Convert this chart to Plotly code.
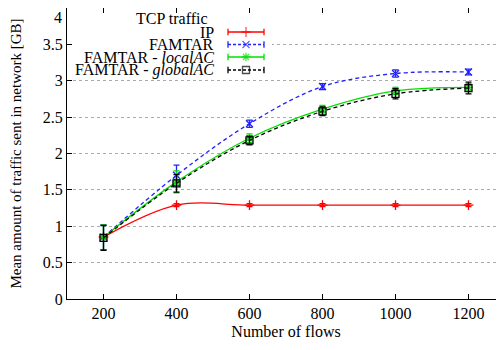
import plotly.graph_objects as go

flows = [200, 400, 600, 800, 1000, 1200]
ip = [0.85, 1.29, 1.29, 1.29, 1.29, 1.29]
ip_err = [0.02, 0.02, 0.02, 0.02, 0.02, 0.02]
famtar = [0.85, 1.70, 2.41, 2.92, 3.10, 3.12]
famtar_err = [0.17, 0.14, 0.05, 0.04, 0.05, 0.04]
local_ac = [0.85, 1.61, 2.21, 2.61, 2.86, 2.91]
local_err = [0.17, 0.15, 0.06, 0.05, 0.05, 0.05]
global_ac = [0.84, 1.59, 2.18, 2.58, 2.82, 2.90]
global_err = [0.17, 0.12, 0.06, 0.06, 0.07, 0.08]
y_ticks = [0, 0.5, 1, 1.5, 2, 2.5, 3, 3.5, 4]

series_names = ["IP", "FAMTAR", "FAMTAR - <i>localAC</i>", "FAMTAR - <i>globalAC</i>"]
colors = ["#ff0000", "#2222ff", "#00e000", "#000000"]
dashes = ["solid", "4px,3px", "solid", "4px,3px"]
symbols = ["cross-thin-open", "x-thin-open", "asterisk-open", "square-open"]
values = [ip, famtar, local_ac, global_ac]
errors = [ip_err, famtar_err, local_err, global_err]

FONT = "Liberation Serif"
fig = go.Figure()

for name, col, dash, sym, v, e in zip(series_names, colors, dashes, symbols, values, errors):
    fig.add_trace(go.Scatter(
        x=flows, y=v, mode="lines",
        line=dict(color=col, width=1.3, dash=dash, shape="spline", smoothing=1.0),
        showlegend=False, hoverinfo="skip"))
    fig.add_trace(go.Scatter(
        x=flows, y=v, mode="markers",
        marker=dict(symbol=sym, size=7, color=col, line=dict(color=col, width=1.3)),
        error_y=dict(type="data", array=e, visible=True, color=col, thickness=1.3, width=3),
        showlegend=False, name=name))

def px_to_x(px):
    return 100 + (px - 67) / 36.5 * 100
def py_to_y(py):
    return (299 - py) / 72.75

# legend box (white background hiding the grid)
fig.add_shape(type="rect", xref="x", yref="y",
              x0=100, x1=px_to_x(272), y0=py_to_y(76), y1=py_to_y(14),
              fillcolor="white", line=dict(width=0), layer="between")

rows_px = [32, 44.5, 57, 70]
fig.add_annotation(x=px_to_x(172), y=py_to_y(18), xref="x", yref="y", text="TCP traffic",
                   showarrow=False, font=dict(family=FONT, size=16, color="black"),
                   xanchor="center", yanchor="middle", borderpad=0)
x1, xm, x2 = px_to_x(228), px_to_x(246), px_to_x(264)
for name, col, dash, sym, ry in zip(series_names, colors, dashes, symbols, rows_px):
    yv = py_to_y(ry)
    fig.add_annotation(x=px_to_x(215), y=yv, xref="x", yref="y", text=name,
                       showarrow=False, font=dict(family=FONT, size=16, color="black"),
                       xanchor="right", yanchor="middle", borderpad=0)
    fig.add_trace(go.Scatter(
        x=[x1, xm, x2], y=[yv, yv, yv], mode="lines+markers",
        line=dict(color=col, width=1.3, dash="3px,2px" if dash != "solid" else "solid"),
        marker=dict(symbol=sym, size=[0, 7, 0], color=col, line=dict(color=col, width=1.3)),
        error_y=dict(type="data", array=[0.045, 0, 0.045], visible=True, color=col,
                     thickness=1.3, width=0),
        showlegend=False, hoverinfo="skip"))

# top y tick label placed as annotation (the page's 8px body margin would clip it)
fig.add_annotation(x=0, xref="paper", xanchor="right", xshift=-4, y=y_ticks[-1], yref="y",
                   yanchor="top", text=str(y_ticks[-1]), showarrow=False,
                   font=dict(family=FONT, size=16, color="black"), borderpad=0)

# the page body has an 8px default margin, so the margins are reduced by 8px
fig.update_layout(
    width=504, height=350,
    margin=dict(l=59, r=7, t=0, b=59),
    paper_bgcolor="white", plot_bgcolor="white",
    font=dict(family=FONT, size=15, color="black"),
    showlegend=False,
)
fig.update_xaxes(
    range=[100, 1300],
    tickvals=flows, ticktext=[str(f) for f in flows],
    ticks="inside", ticklen=5, tickcolor="black",
    showline=True, linecolor="black", linewidth=1, mirror="ticks",
    showgrid=False, zeroline=False, automargin=False,
    title=dict(text="Number of flows", font=dict(family=FONT, size=16), standoff=4),
    tickfont=dict(family=FONT, size=16),
)
fig.update_yaxes(
    range=[0, 4], tickvals=y_ticks,
    ticktext=[("%g" % t) if t < 4 else "" for t in y_ticks],
    ticks="inside", ticklen=5, tickcolor="black",
    showline=True, linecolor="black", linewidth=1,
    showgrid=True, gridcolor="#aaaaaa", griddash="dot", gridwidth=1,
    zeroline=False, automargin=False,
    title=dict(text="Mean amount of traffic sent in network [GB]", font=dict(family=FONT, size=15), standoff=20),
    tickfont=dict(family=FONT, size=16),
)

fig.write_html("out.html")
